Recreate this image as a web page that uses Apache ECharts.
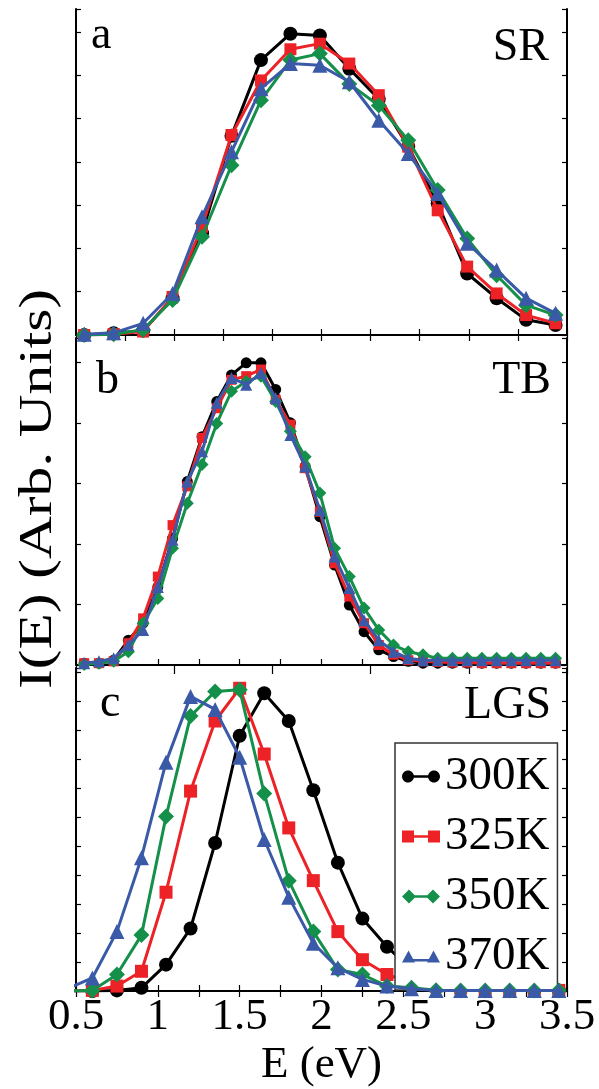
<!DOCTYPE html>
<html><head><meta charset="utf-8">
<script src="https://cdn.jsdelivr.net/npm/echarts@6/dist/echarts.min.js"></script>
<style>html,body{margin:0;padding:0;background:#fff}#c{width:599px;height:1089px}</style>
</head><body><div id="c"></div>
<script>
// ---- data ----
const seriesNames = ['300K', '325K', '350K', '370K'];
const panelNames = ['SR', 'TB', 'LGS'];
const panelLetters = ['a', 'b', 'c'];
const xTickLabels = ['0.5', '1', '1.5', '2', '2.5', '3', '3.5'];

// panel a (SR)
const xSR = [0.55,0.73,0.91,1.09,1.27,1.45,1.63,1.81,1.99,2.17,2.35,2.53,2.71,2.89,3.07,3.25,3.43];
const sr300 = [0,0.04,0.10,0.85,2.35,4.60,6.35,6.96,6.92,6.15,5.45,4.35,3.04,1.42,0.85,0.35,0.23];
const sr325 = [0,0.02,0.08,0.88,2.50,4.62,5.88,6.60,6.73,6.27,5.54,4.35,2.88,1.58,0.96,0.46,0.27];
const sr350 = [0,0.02,0.12,0.81,2.27,3.92,5.42,6.35,6.50,5.80,5.30,4.50,3.35,2.23,1.38,0.69,0.46];
const sr370 = [0.02,0.05,0.27,0.96,2.73,4.23,5.69,6.27,6.23,5.85,4.96,4.19,3.27,2.12,1.50,0.85,0.50];

// panel b (TB)
const xTB = [0.55,0.64,0.73,0.82,0.91,1.00,1.09,1.18,1.27,1.36,1.45,1.54,1.63,1.72,1.81,1.90,1.99,2.08,2.17,2.26,2.35,2.44,2.53,2.62,2.71,2.80,2.89,2.98,3.07,3.16,3.25,3.34,3.43];
const tb300 = [0.03,0.03,0.08,0.41,0.69,1.29,2.09,3.03,3.77,4.35,4.79,4.99,4.99,4.55,4.00,3.28,2.45,1.65,0.99,0.55,0.25,0.14,0.06,0.03,0.03,0.03,0.03,0.03,0.03,0.03,0.03,0.03,0.03];
const tb325 = [0.03,0.03,0.06,0.36,0.77,1.46,2.31,2.95,3.75,4.24,4.71,4.77,4.88,4.38,3.97,3.25,2.53,1.68,1.13,0.69,0.33,0.17,0.08,0.06,0.05,0.04,0.04,0.03,0.03,0.03,0.03,0.03,0.03];
const tb350 = [0.01,0.03,0.06,0.22,0.69,1.10,1.93,2.67,3.31,3.99,4.52,4.68,4.77,4.35,3.86,3.44,2.84,1.93,1.46,0.94,0.58,0.33,0.22,0.17,0.11,0.11,0.11,0.11,0.11,0.11,0.11,0.11,0.11];
const tb370 = [0.03,0.06,0.11,0.33,0.58,1.29,2.07,3.03,3.53,4.33,4.74,4.63,4.82,4.41,3.80,3.28,2.56,1.79,1.27,0.74,0.41,0.22,0.11,0.08,0.08,0.08,0.08,0.08,0.08,0.08,0.08,0.08,0.08];

// panel c (LGS)  (first point lies just left of the plotted range and is clipped)
const xLGS = [0.45,0.60,0.75,0.90,1.05,1.20,1.35,1.50,1.65,1.80,1.95,2.10,2.25,2.40,2.55,2.70,2.85,3.00,3.15,3.30,3.45];
const lgs300 = [0,0,0.02,0.11,0.91,2.16,5.11,8.81,10.28,9.32,6.93,4.43,2.50,1.53,0.74,0.45,0.23,0.11,0.05,0.03,0.02];
const lgs325 = [0,0.02,0.17,0.68,3.41,6.90,9.32,10.45,8.18,5.63,3.81,2.05,1.08,0.57,0.28,0.17,0.11,0.03,0.02,0.02,0.02];
const lgs350 = [0,0.02,0.57,1.93,6.02,9.49,10.34,10.40,6.82,3.81,2.05,0.74,0.57,0.17,0.11,0.03,0.02,0.02,0.02,0.02,0.02];
const lgs370 = [0.08,0.45,2.05,4.60,7.90,10.17,9.72,8.07,5.23,3.24,1.65,0.80,0.40,0.17,0.08,0.02,0.02,0.02,0.02,0.02,0.02];

// ---- styling ----
const FONT = '"Liberation Serif", "Times New Roman", serif';
const colors = ['#000000', '#ec2227', '#15904a', '#3a5aa8'];
const symbols = ['circle', 'rect', 'diamond', 'triangle'];
const circ = cx => `M${cx-6},7C${cx-6},3.7 ${cx-3.3},1 ${cx},1C${cx+3.3},1 ${cx+6},3.7 ${cx+6},7C${cx+6},10.3 ${cx+3.3},13 ${cx},13C${cx-3.3},13 ${cx-6},10.3 ${cx-6},7Z`;
const icons = [
  'path://' + circ(6) + circ(32) + 'M6,5.7L32,5.7L32,8.3L6,8.3Z',
  'path://M0,1L12,1L12,13L0,13ZM26,1L38,1L38,13L26,13ZM6,5.7L32,5.7L32,8.3L6,8.3Z',
  'path://M0,7L7,0L14,7L7,14ZM24,7L31,0L38,7L31,14ZM7,5.7L31,5.7L31,8.3L7,8.3Z',
  'path://M0,13L6.5,1L13,13ZM25,13L31.5,1L38,13ZM6,9.4L32,9.4L32,12L6,12Z'
];

const grids = [
  {left: 76, width: 491, top: 9, height: 326},
  {left: 76, width: 491, top: 338, height: 327},
  {left: 76, width: 491, top: 668, height: 327}
];
const yMax = [7.53, 5.4, 11.15];
const xData = [xSR, xTB, xLGS];
const yData = [[sr300, sr325, sr350, sr370], [tb300, tb325, tb350, tb370], [lgs300, lgs325, lgs350, lgs370]];
const symSizes = [
  [14, [12, 12], 16, 15],
  [11, [10, 10], 13, 12],
  [14, [13, 13], 16, 15]
];
const bottomIntervals = [0.3, 0.25, 0.25];
const topIntervals = [0.3, 0.6, 0.25];

const axLine = {show: true, lineStyle: {color: '#000', width: 2}};
const xAxes = [], yAxes = [];
for (let g = 0; g < 3; g++) {
  xAxes.push({
    type: 'value', gridIndex: g, position: 'bottom', min: 0.5, max: 3.5, interval: bottomIntervals[g],
    axisLine: axLine, splitLine: {show: false},
    axisTick: {show: true, inside: true, length: 6, lineStyle: {color: '#000', width: 1.2}},
    axisLabel: g === 2 ? {
      show: true, margin: 4, color: '#000', fontFamily: FONT, fontSize: 45,
      formatter: v => { const s = String(+v.toFixed(2)); return xTickLabels.indexOf(s) >= 0 ? s : ''; }
    } : {show: false},
    name: g === 2 ? 'E (eV)' : '', nameLocation: 'middle', nameGap: 52,
    nameTextStyle: {color: '#000', fontFamily: FONT, fontSize: 45}
  });
  xAxes.push({
    type: 'value', gridIndex: g, position: 'top', min: 0.5, max: 3.5, interval: topIntervals[g],
    axisLine: axLine, splitLine: {show: false},
    axisTick: {show: true, inside: true, length: g === 1 ? 9 : 6, lineStyle: {color: '#000', width: 1.2}},
    axisLabel: {show: false}
  });
  for (const pos of ['left', 'right']) {
    yAxes.push({
      type: 'value', gridIndex: g, position: pos, min: 0, max: yMax[g], interval: 1,
      axisLine: axLine, splitLine: {show: false},
      axisTick: {show: true, inside: true, length: 5, lineStyle: {color: '#000', width: 1.2}},
      axisLabel: {show: false}
    });
  }
}

const series = [];
for (let g = 0; g < 3; g++) {
  for (let s = 0; s < 4; s++) {
    series.push({
      type: 'line', name: seriesNames[s], xAxisIndex: g * 2, yAxisIndex: g * 2,
      data: xData[g].map((x, i) => [x, yData[g][s][i]]),
      symbol: symbols[s], symbolSize: symSizes[g][s], showSymbol: true,
      lineStyle: {color: colors[s], width: 3},
      itemStyle: {color: colors[s], borderWidth: 0},
      emphasis: {disabled: true},
      clip: true, z: 2 + s
    });
  }
}

const txt = (text, x, y, align) => ({
  type: 'text', x: x, y: y, z: 100,
  style: {text: text, font: '46px ' + FONT, fill: '#000', textAlign: align, textVerticalAlign: 'middle'}
});

// stretch the vertical axis title along its length to match the reference span
const YTITLE = 'I(E) (Arb. Units)';
const meas = document.createElement('canvas').getContext('2d');
meas.font = '46px ' + FONT;
const yTitleScale = 400 / meas.measureText(YTITLE).width;

const option = {
  animation: false,
  backgroundColor: '#fff',
  grid: grids,
  xAxis: xAxes,
  yAxis: yAxes,
  series: series,
  legend: {
    orient: 'vertical', left: 395, top: 743, padding: [10, 8, 10, 7],
    itemWidth: 38, itemHeight: 14, itemGap: 13, selectedMode: false,
    borderColor: '#333', borderWidth: 1.5, backgroundColor: '#fff',
    textStyle: {fontFamily: FONT, fontSize: 47, color: '#000', lineHeight: 31},
    data: seriesNames.map((n, i) => ({name: n, icon: icons[i]}))
  },
  graphic: [
    txt(panelLetters[0], 91, 36, 'left'), txt(panelNames[0], 549, 48, 'right'),
    txt(panelLetters[1], 96, 381, 'left'), txt(panelNames[1], 551, 381, 'right'),
    txt(panelLetters[2], 100, 704, 'left'), txt(panelNames[2], 551, 706, 'right'),
    {type: 'text', x: 39, y: 489, rotation: Math.PI / 2, scaleX: yTitleScale, z: 100,
     style: {text: YTITLE, font: '46px ' + FONT, fill: '#000', textAlign: 'center', textVerticalAlign: 'middle'}}
  ]
};
const chart = echarts.init(document.getElementById('c'), null, {renderer: 'canvas'});
chart.setOption(option);
</script></body></html>
